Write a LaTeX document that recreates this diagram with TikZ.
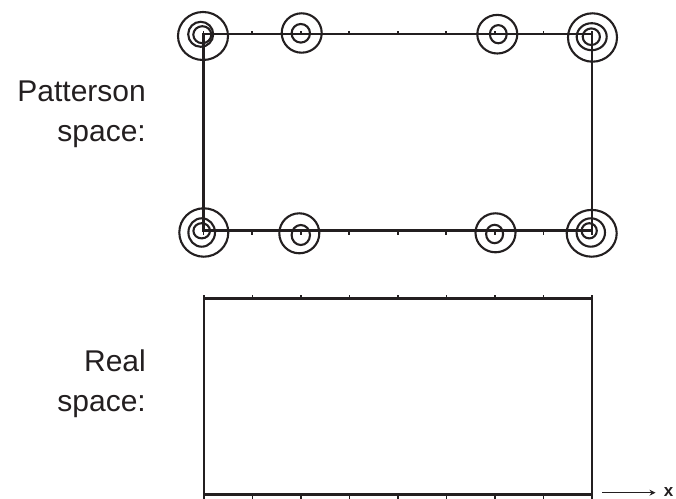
\documentclass[tikz,border=0pt]{standalone}
\usepackage{fontspec}
\setmainfont{Liberation Sans}
\usetikzlibrary{arrows.meta}
\definecolor{ink}{RGB}{35,31,32}
\tikzset{
  frame/.style={draw=ink, line width=2.4bp},
  tickmark/.style={draw=ink, line width=1.8bp},
  ring/.style={draw=ink, line width=2.1bp},
  lbl/.style={text=ink, font=\fontsize{30bp}{36bp}\selectfont, inner sep=0pt, anchor=base east},
  axislbl/.style={text=ink, font=\fontsize{17bp}{20bp}\selectfont\bfseries, inner sep=0pt},
}
\begin{document}
\begin{tikzpicture}[x=1bp, y=-1bp]
\useasboundingbox (0,0) rectangle (676,499);

% --- labels ---
\node[lbl] (pat1) at (146,101.7) {Patterson};
\node[lbl] (pat2) at (146,141.7) {space:};
\node[lbl] (real1) at (146,371.7) {Real};
\node[lbl] (real2) at (146,411) {space:};

% --- Patterson cell ---
\draw[frame] (203.5,34.3) rectangle (592,230.7);
\foreach \i in {0,...,8} {
  \pgfmathsetmacro{\xx}{203.5+\i*48.5625}
  \draw[tickmark] (\xx,34.3) -- (\xx,31.4);
  \draw[tickmark] (\xx,230.7) -- (\xx,234.6);
}

% contour peaks at the cell corners
\draw[ring] (203,36) ellipse [x radius=25bp, y radius=24bp];
\draw[ring] (200.7,34.3) ellipse [x radius=12.5bp, y radius=12.5bp];
\draw[ring] (202.3,34.7) ellipse [x radius=9bp, y radius=8.5bp];

\draw[ring] (592.5,37.5) ellipse [x radius=24.5bp, y radius=24.2bp];
\draw[ring] (591.7,36.7) ellipse [x radius=15bp, y radius=13.5bp];
\draw[ring] (591.3,36.7) ellipse [x radius=8.6bp, y radius=8.3bp];

\draw[ring] (203.8,232.5) ellipse [x radius=24.5bp, y radius=24.2bp];
\draw[ring] (201.7,232.5) ellipse [x radius=13.3bp, y radius=14.2bp];
\draw[ring] (201.7,230.8) ellipse [x radius=8.3bp, y radius=7.6bp];

\draw[ring] (591.7,233.3) ellipse [x radius=25bp, y radius=23.4bp];
\draw[ring] (590.8,232.5) ellipse [x radius=14.2bp, y radius=14.2bp];
\draw[ring] (589.2,230.8) ellipse [x radius=7.6bp, y radius=7.6bp];

% smaller peaks at 1/4 and 3/4
\draw[ring] (301.7,33) ellipse [x radius=20bp, y radius=19.7bp];
\draw[ring] (300.8,33.3) ellipse [x radius=9.2bp, y radius=9.3bp];

\draw[ring] (497.3,34.2) ellipse [x radius=20bp, y radius=19.3bp];
\draw[ring] (498.3,34.2) ellipse [x radius=8.4bp, y radius=9.1bp];

\draw[ring] (299.3,233.3) ellipse [x radius=20bp, y radius=20bp];
\draw[ring] (300.8,235) ellipse [x radius=9.2bp, y radius=10bp];

\draw[ring] (495.5,232.8) ellipse [x radius=20bp, y radius=19.5bp];
\draw[ring] (494.6,234) ellipse [x radius=8.5bp, y radius=9.2bp];

% --- real-space cell ---
\draw[frame] (204,298.3) rectangle (592,494.3);
\foreach \i in {0,...,8} {
  \pgfmathsetmacro{\xx}{204+\i*48.5}
  \draw[tickmark] (\xx,298.3) -- (\xx,295.3);
  \draw[tickmark] (\xx,494.3) -- (\xx,500);
}

% --- x axis ---
\coordinate (xstart) at (602,492.7);
\coordinate (xend) at (655.5,492.7);
\node[axislbl] (xlab) at (668.5,492.3) {x};
\draw[draw=ink, line width=1.4bp, -{Stealth[length=6bp, width=6bp]}] (xstart) -- (xend);
\end{tikzpicture}
\end{document}
